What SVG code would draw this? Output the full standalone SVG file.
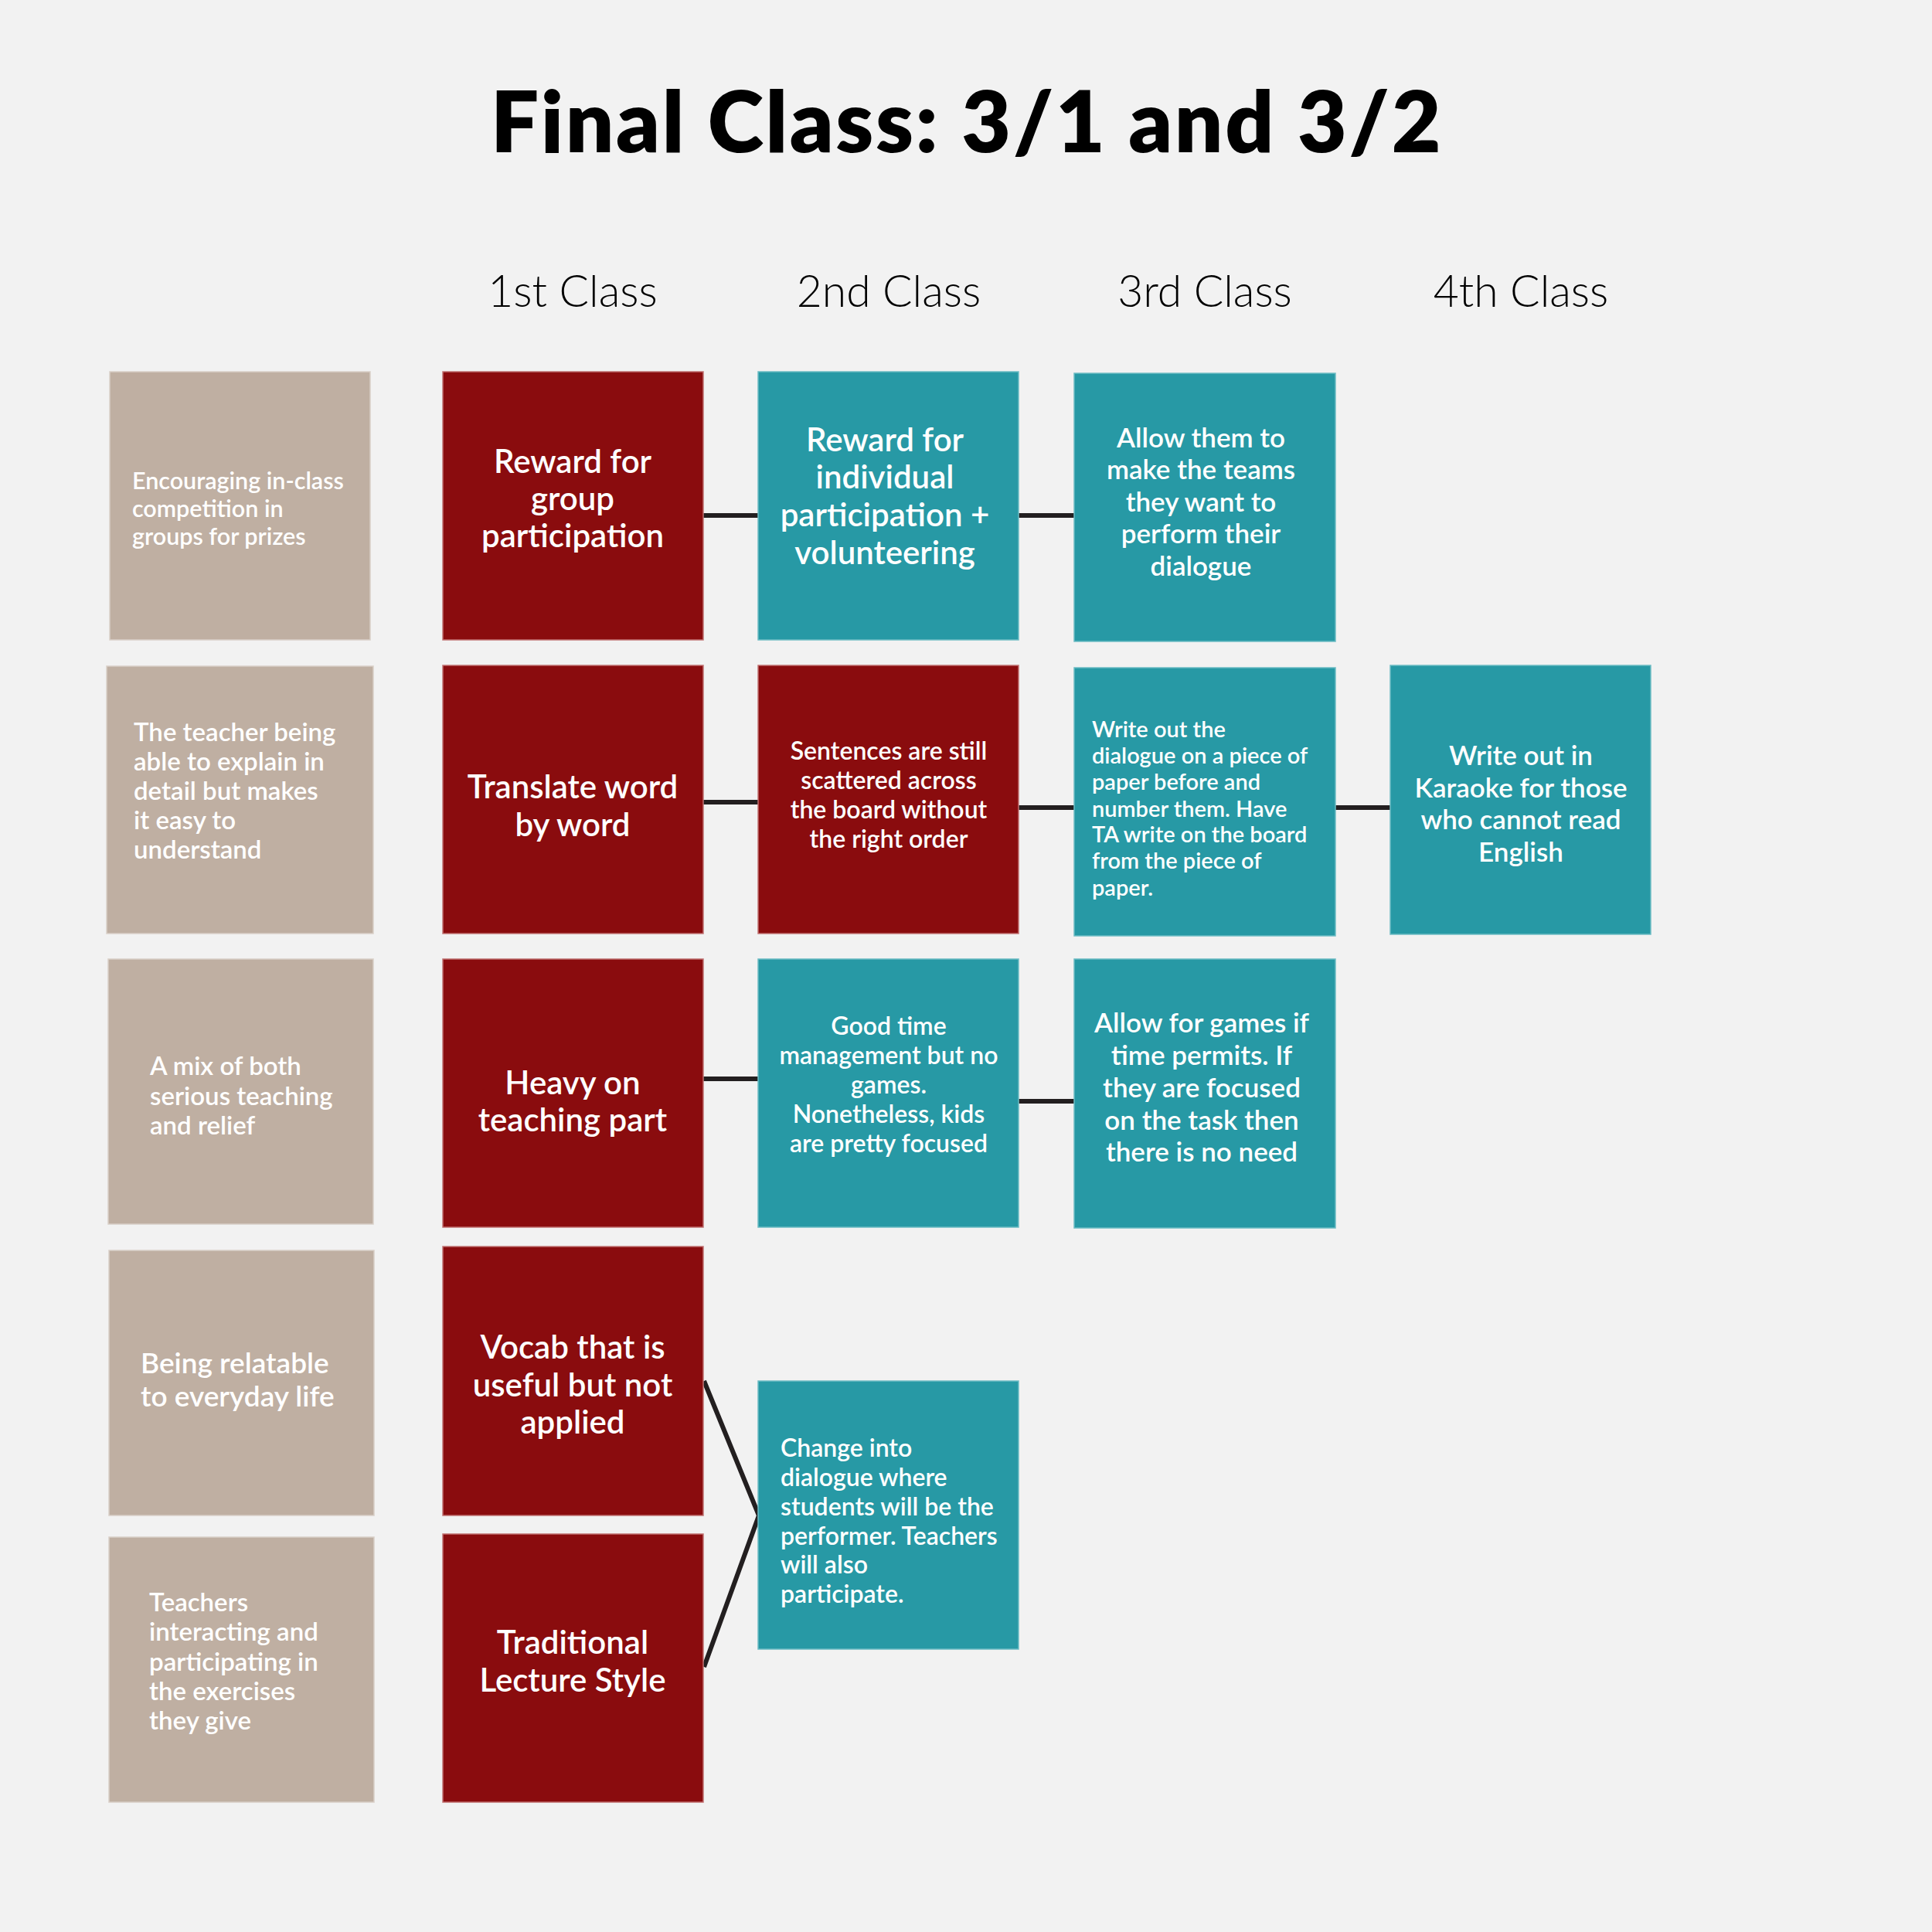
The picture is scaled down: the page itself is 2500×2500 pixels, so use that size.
<svg xmlns="http://www.w3.org/2000/svg" width="2500" height="2500" viewBox="0 0 2500 2500">
<style>
.bg{fill:#f2f2f2}
.beige{fill:#bfafa2;stroke:#d9cfc7;stroke-width:1.5}
.red{fill:#8a0c0e;stroke:#c07070;stroke-width:1.5}
.teal{fill:#2799a5;stroke:#6cbcc4;stroke-width:1.5}
.t{font-family:Lato,"Liberation Sans",sans-serif;fill:#ffffff;font-weight:600}
.title{font-family:Lato,"Liberation Sans",sans-serif;font-weight:800;font-size:110px;fill:#000000;text-anchor:middle;letter-spacing:2.6px}
.hdr{font-family:Lato,"Liberation Sans",sans-serif;font-weight:300;font-size:57px;fill:#000000;text-anchor:middle}
.c{text-anchor:middle}
.s28{font-size:29px}
.sb1{font-size:30.5px}
.sb{font-size:33px}
.s30{font-size:32px}
.s33{font-size:35px}
.sb4{font-size:37px}
.s40{font-size:42px}
.conn{stroke:#231f20;stroke-width:6;fill:none}
</style>
<rect class="bg" x="0" y="0" width="2500" height="2500"/>
<text class="title" x="1251" y="197">Final Class: 3/1 and 3/2</text>
<g id="headers">
<text class="hdr" x="741" y="397">1st Class</text>
<text class="hdr" x="1150" y="397">2nd Class</text>
<text class="hdr" x="1559" y="397">3rd Class</text>
<text class="hdr" x="1968" y="397">4th Class</text>
</g>
<g id="connectors">
<line class="conn" x1="910" y1="667" x2="981" y2="667"/>
<line class="conn" x1="1318" y1="667" x2="1390" y2="667"/>
<line class="conn" x1="910" y1="1038" x2="981" y2="1038"/>
<line class="conn" x1="1318" y1="1045" x2="1390" y2="1045"/>
<line class="conn" x1="1728" y1="1045" x2="1799" y2="1045"/>
<line class="conn" x1="910" y1="1396" x2="981" y2="1396"/>
<line class="conn" x1="1318" y1="1425" x2="1390" y2="1425"/>
<polyline class="conn" points="911,1787 982,1961 911,2157"/>
</g>
<g id="beige1"><rect class="beige" x="142" y="481" width="337" height="347"/>
<text class="t sb1"><tspan x="171" y="633">Encouraging in-class</tspan><tspan x="171" y="669">competition in</tspan><tspan x="171" y="705">groups for prizes</tspan></text></g>
<g id="beige2"><rect class="beige" x="138" y="862" width="345" height="346"/>
<text class="t sb"><tspan x="173" y="959">The teacher being</tspan><tspan x="173" y="997">able to explain in</tspan><tspan x="173" y="1035">detail but makes</tspan><tspan x="173" y="1073">it easy to</tspan><tspan x="173" y="1111">understand</tspan></text></g>
<g id="beige3"><rect class="beige" x="140" y="1241" width="343" height="343"/>
<text class="t sb"><tspan x="194" y="1391">A mix of both</tspan><tspan x="194" y="1430">serious teaching</tspan><tspan x="194" y="1468">and relief</tspan></text></g>
<g id="beige4"><rect class="beige" x="141" y="1618" width="343" height="343"/>
<text class="t sb4"><tspan x="182" y="1777">Being relatable</tspan><tspan x="182" y="1820">to everyday life</tspan></text></g>
<g id="beige5"><rect class="beige" x="141" y="1989" width="343" height="343"/>
<text class="t sb"><tspan x="193" y="2085">Teachers</tspan><tspan x="193" y="2123">interacting and</tspan><tspan x="193" y="2162">participating in</tspan><tspan x="193" y="2200">the exercises</tspan><tspan x="193" y="2238">they give</tspan></text></g>
<g id="c1r1"><rect class="red" x="573" y="481" width="337" height="347"/>
<text class="t s40 c"><tspan x="741" y="612">Reward for</tspan><tspan x="741" y="660">group</tspan><tspan x="741" y="708">participation</tspan></text></g>
<g id="c1r2"><rect class="red" x="573" y="861" width="337" height="347"/>
<text class="t s40 c"><tspan x="741" y="1033">Translate word</tspan><tspan x="741" y="1082">by word</tspan></text></g>
<g id="c1r3"><rect class="red" x="573" y="1241" width="337" height="347"/>
<text class="t s40 c"><tspan x="741" y="1416">Heavy on</tspan><tspan x="741" y="1464">teaching part</tspan></text></g>
<g id="c1r4"><rect class="red" x="573" y="1613" width="337" height="348"/>
<text class="t s40 c"><tspan x="741" y="1758">Vocab that is</tspan><tspan x="741" y="1807">useful but not</tspan><tspan x="741" y="1855">applied</tspan></text></g>
<g id="c1r5"><rect class="red" x="573" y="1985" width="337" height="347"/>
<text class="t s40 c"><tspan x="741" y="2140">Traditional</tspan><tspan x="741" y="2189">Lecture Style</tspan></text></g>
<g id="c2r1"><rect class="teal" x="981" y="481" width="337" height="347"/>
<text class="t s40 c"><tspan x="1145" y="584">Reward for</tspan><tspan x="1145" y="632">individual</tspan><tspan x="1145" y="681">participation +</tspan><tspan x="1145" y="730">volunteering</tspan></text></g>
<g id="c2r2"><rect class="red" x="981" y="861" width="337" height="347"/>
<text class="t s30 c"><tspan x="1150" y="983">Sentences are still</tspan><tspan x="1150" y="1021">scattered across</tspan><tspan x="1150" y="1059">the board without</tspan><tspan x="1150" y="1097">the right order</tspan></text></g>
<g id="c2r3"><rect class="teal" x="981" y="1241" width="337" height="347"/>
<text class="t s30 c"><tspan x="1150" y="1339">Good time</tspan><tspan x="1150" y="1377">management but no</tspan><tspan x="1150" y="1415">games.</tspan><tspan x="1150" y="1453">Nonetheless, kids</tspan><tspan x="1150" y="1491">are pretty focused</tspan></text></g>
<g id="c2r45"><rect class="teal" x="981" y="1787" width="337" height="347"/>
<text class="t s30"><tspan x="1010" y="1885">Change into</tspan><tspan x="1010" y="1923">dialogue where</tspan><tspan x="1010" y="1961">students will be the</tspan><tspan x="1010" y="1999">performer. Teachers</tspan><tspan x="1010" y="2036">will also</tspan><tspan x="1010" y="2074">participate.</tspan></text></g>
<g id="c3r1"><rect class="teal" x="1390" y="483" width="338" height="347"/>
<text class="t s33 c"><tspan x="1554" y="579">Allow them to</tspan><tspan x="1554" y="620">make the teams</tspan><tspan x="1554" y="662">they want to</tspan><tspan x="1554" y="703">perform their</tspan><tspan x="1554" y="745">dialogue</tspan></text></g>
<g id="c3r2"><rect class="teal" x="1390" y="864" width="338" height="347"/>
<text class="t s28"><tspan x="1413" y="954">Write out the</tspan><tspan x="1413" y="988">dialogue on a piece of</tspan><tspan x="1413" y="1022">paper before and</tspan><tspan x="1413" y="1057">number them. Have</tspan><tspan x="1413" y="1090">TA write on the board</tspan><tspan x="1413" y="1124">from the piece of</tspan><tspan x="1413" y="1159">paper.</tspan></text></g>
<g id="c3r3"><rect class="teal" x="1390" y="1241" width="338" height="348"/>
<text class="t s33 c"><tspan x="1555" y="1336">Allow for games if</tspan><tspan x="1555" y="1378">time permits. If</tspan><tspan x="1555" y="1420">they are focused</tspan><tspan x="1555" y="1462">on the task then</tspan><tspan x="1555" y="1503">there is no need</tspan></text></g>
<g id="c4r2"><rect class="teal" x="1799" y="861" width="337" height="348"/>
<text class="t s33 c"><tspan x="1968" y="990">Write out in</tspan><tspan x="1968" y="1032">Karaoke for those</tspan><tspan x="1968" y="1073">who cannot read</tspan><tspan x="1968" y="1115">English</tspan></text></g>
</svg>
